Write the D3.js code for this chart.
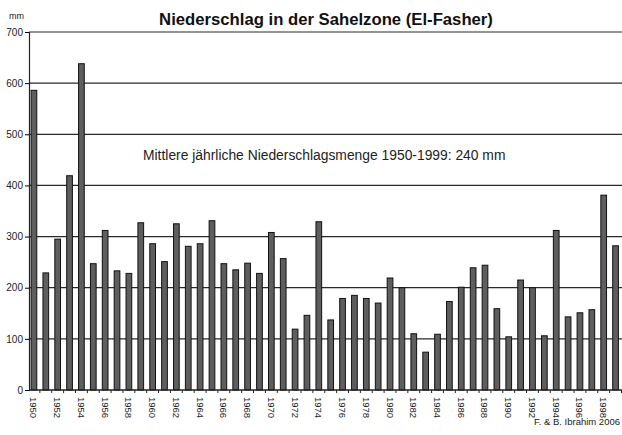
<!DOCTYPE html>
<html>
<head>
<meta charset="utf-8">
<script src="https://cdn.jsdelivr.net/npm/d3@7"></script>
<style>
    body { margin: 0; background: #fff; }
    text { font-family: "Liberation Sans", Arial, sans-serif; }
</style>
</head>
<body>
<div id="chart"></div>
<script>
const years = d3.range(1950, 2000);
const rainfall = [
    586, 229, 295, 419, 638, 247, 312, 233, 228, 327,
    286, 251, 325, 281, 286, 331, 247, 235, 248, 228,
    308, 257, 119, 146, 329, 137, 179, 185, 179, 170,
    219, 200, 110, 74, 109, 173, 201, 239, 244, 159,
    104, 215, 200, 106, 312, 143, 151, 157, 381, 282
];
const yTicks = [0, 100, 200, 300, 400, 500, 600, 700];

const width = 622, height = 435;
const margin = { top: 32, right: 0, bottom: 45, left: 29 };
const innerW = width - margin.left - margin.right;
const innerH = height - margin.top - margin.bottom;

const svg = d3.select("#chart")
    .append("svg")
    .attr("width", width)
    .attr("height", height);

const g = svg.append("g")
    .attr("transform", `translate(${margin.left}, ${margin.top})`);

const x = d3.scaleBand()
    .domain(years)
    .range([-1, innerW - 0.5])
    .paddingInner(0.52)
    .paddingOuter(0.26);

const y = d3.scaleLinear()
    .domain([0, 700])
    .range([innerH, 0]);

// gridlines
g.selectAll(".grid")
    .data(yTicks.slice(1))
    .enter()
    .append("line")
    .attr("x1", 0)
    .attr("x2", innerW)
    .attr("y1", d => y(d))
    .attr("y2", d => y(d))
    .attr("stroke", "#2a2a2a")
    .attr("stroke-width", 1.2);

// bars
g.selectAll(".bar")
    .data(years)
    .enter()
    .append("rect")
    .attr("x", d => x(d))
    .attr("y", (d, i) => y(rainfall[i]))
    .attr("width", x.bandwidth())
    .attr("height", (d, i) => innerH - y(rainfall[i]))
    .attr("fill", "#5e5e5e")
    .attr("stroke", "#111")
    .attr("stroke-width", 1);

// y axis
const yAxis = g.append("g")
    .call(d3.axisLeft(y).tickValues(yTicks).tickSize(4).tickPadding(2));
yAxis.select(".domain").attr("stroke", "#222").attr("stroke-width", 1.2);
yAxis.selectAll("text").style("font-size", "10px").attr("fill", "#222");

// x axis with ticks between bars
const xAxis = g.append("g")
    .attr("transform", `translate(0, ${innerH})`);
xAxis.append("line")
    .attr("x1", 0).attr("x2", innerW)
    .attr("stroke", "#222").attr("stroke-width", 1.5);
xAxis.selectAll(".tk")
    .data(years)
    .enter()
    .append("line")
    .attr("x1", d => x(d) + x.bandwidth() / 2 + x.step() / 2)
    .attr("x2", d => x(d) + x.bandwidth() / 2 + x.step() / 2)
    .attr("y1", 0).attr("y2", 3)
    .attr("stroke", "#222");
xAxis.selectAll(".lbl")
    .data(years.filter(d => d % 2 === 0))
    .enter()
    .append("text")
    .attr("transform", d => `translate(${x(d) + x.bandwidth() / 2 - 3.5}, 7) rotate(90)`)
    .style("font-size", "9.5px")
    .attr("fill", "#222")
    .text(d => d);

svg.append("text")
    .attr("x", 326)
    .attr("y", 25)
    .attr("text-anchor", "middle")
    .style("font-size", "16.7px")
    .style("font-weight", "bold")
    .attr("fill", "#111")
    .text("Niederschlag in der Sahelzone (El-Fasher)");

svg.append("text")
    .attr("x", 9)
    .attr("y", 19)
    .style("font-size", "9px")
    .attr("fill", "#222")
    .text("mm");

svg.append("text")
    .attr("x", 143)
    .attr("y", 160)
    .style("font-size", "13.85px")
    .attr("fill", "#222")
    .text("Mittlere jährliche Niederschlagsmenge 1950-1999: 240 mm");

svg.append("text")
    .attr("x", 620)
    .attr("y", 425)
    .attr("text-anchor", "end")
    .style("font-size", "9.5px")
    .attr("fill", "#222")
    .text("F. & B. Ibrahim 2006");
</script>
</body>
</html>
